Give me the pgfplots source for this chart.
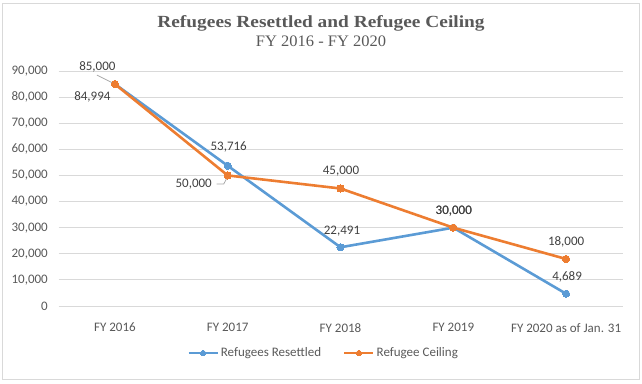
\documentclass[border=0pt]{standalone}
\usepackage{pgfplots}
\pgfplotsset{compat=1.18}
\usepackage{pgfplotstable}
\usepackage{fontspec}
\setmainfont{Carlito}
\newfontfamily\titlefont{Liberation Serif}
\definecolor{blueS}{HTML}{5B9BD5}
\definecolor{orangeS}{HTML}{ED7D31}
\definecolor{txt}{HTML}{595959}
\definecolor{lbl}{HTML}{404040}
\definecolor{gridc}{HTML}{D9D9D9}
\definecolor{leader}{HTML}{A6A6A6}

\pgfplotstableread{
x y lab dx dy
0 84994 84,994 -22.5 -13
1 53716 53,716 1 19
2 22491 22,491 1.5 16
3 30000 30,000 0.5 17
4 4689 4,689 1 17
}\resettled

\pgfplotstableread{
x y lab dx dy
0 85000 85,000 -17.5 17
1 50000 50,000 -34 -8.5
2 45000 45,000 0.5 17
3 30000 30,000 0.5 17
4 18000 18,000 0 17
}\ceiling

\begin{document}
\begin{tikzpicture}[x=1pt,y=1pt]
\path[use as bounding box] (0,0) rectangle (642,383);
\draw[gridc, line width=0.8pt] (2.5,3.5) rectangle (639.5,379.5);
\node[txt, anchor=base, xscale=1.14, font=\titlefont\bfseries\fontsize{17}{20}\selectfont] at (321,355) {Refugees Resettled and Refugee Ceiling};
\node[txt, anchor=base, xscale=1.03, font=\titlefont\fontsize{16}{19}\selectfont] at (321,336) {FY 2016 - FY 2020};
\begin{axis}[
  at={(58.5pt,77pt)}, anchor=south west,
  scale only axis, width=564pt, height=235pt,
  xmin=-0.5, xmax=4.5, ymin=0, ymax=90000,
  clip=false,
  xtick={0,1,2,3,4},
  xticklabels={FY 2016, FY 2017, FY 2018, FY 2019, FY 2020 as of Jan. 31},
  ytick={0,10000,...,90000},
  scaled y ticks=false,
  /pgf/number format/.cd, 1000 sep={,}, assume math mode=true, /pgfplots/.cd,
  axis line style={draw=none},
  major tick length=0pt,
  ymajorgrids, grid style={gridc, line width=0.8pt},
  tick label style={txt, font=\fontsize{13}{15}\selectfont},
  yticklabel style={anchor=east, inner sep=0pt, xshift=-10.5pt},
  xticklabel style={anchor=north, inner sep=0pt, yshift=-17pt},
  legend style={at={(0.47,-0.2)}, anchor=center, draw=none, fill=none,
    legend columns=2, font=\fontsize{13}{15}\selectfont, text=txt,
    /tikz/every even column/.style={column sep=20pt},
    inner sep=0pt},
  legend image code/.code={
    \draw[#1, mark size=2.6pt, mark repeat=2, mark phase=2] plot coordinates {(0pt,0pt) (14.5pt,0pt) (29pt,0pt)};
  },
  nodes near coords,
  point meta=explicit symbolic,
  visualization depends on={\thisrow{dx}\as\dx},
  visualization depends on={\thisrow{dy}\as\dy},
  every node near coord/.append style={anchor=center, lbl, font=\fontsize{13}{15}\selectfont, xshift=\dx pt, yshift=\dy pt, inner sep=0pt},
]
\addplot[blueS, line width=2.6pt, mark=*, mark size=3.6pt, mark options={fill=blueS, draw=blueS, line width=0pt}]
  table[x=x, y=y, meta=lab] {\resettled};
\addlegendentry{Refugees Resettled}
\addplot[orangeS, line width=2.6pt, mark=*, mark size=3.6pt, mark options={fill=orangeS, draw=orangeS, line width=0pt}]
  table[x=x, y=y, meta=lab] {\ceiling};
\addlegendentry{Refugee Ceiling}
\draw[leader, line width=0.75pt] ([shift={(-18pt,9pt)}]axis cs:0,85000) -- ([shift={(-3pt,1.5pt)}]axis cs:0,85000);
\draw[leader, line width=0.75pt] ([shift={(-11pt,-8.6pt)}]axis cs:1,50000) -- ([shift={(-4pt,-8.6pt)}]axis cs:1,50000) -- ([shift={(-1pt,-3pt)}]axis cs:1,50000);
\end{axis}
\end{tikzpicture}
\end{document}
